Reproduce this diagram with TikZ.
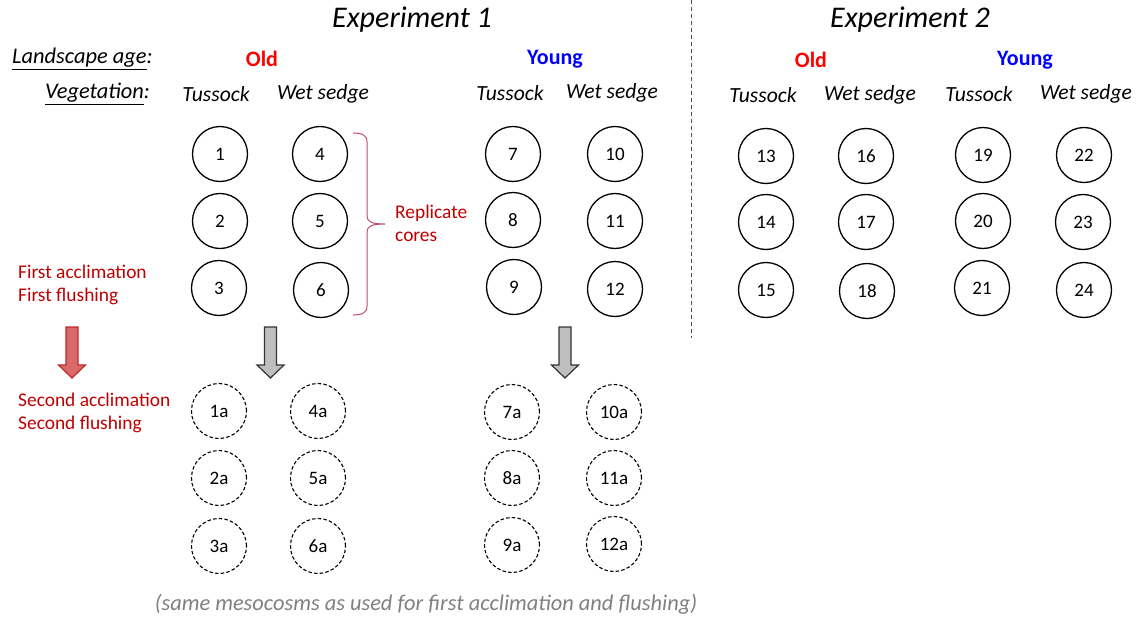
\documentclass[tikz,border=0pt]{standalone}
\usepackage{fontspec}
\setmainfont{Carlito}
\definecolor{darkred}{RGB}{192,0,0}
\definecolor{bracecol}{RGB}{190,75,110}
\definecolor{arrowred}{RGB}{217,106,106}
\definecolor{arrowredline}{RGB}{192,40,40}
\definecolor{arrowgray}{RGB}{191,191,191}
\definecolor{notegray}{RGB}{128,128,128}
\newcommand\myblockarrow[4]{% x, fill, draw, name
  \draw[#3, fill=#2, line width=1.2pt, line join=miter] ({#1-6},327) -- ({#1+6},327) -- ({#1+6},365) -- ({#1+13.5},365) -- (#1,378) -- ({#1-13.5},365) -- ({#1-6},365) -- cycle;}
\begin{document}
\begin{tikzpicture}[x=1pt,y=-1pt,
  core/.style={circle,draw,line width=1.3pt,minimum size=55pt,inner sep=0pt,font=\fontsize{19}{21}\selectfont},
  acore/.style={core,dash pattern=on 3.5pt off 2.2pt,line width=1.1pt},
  title/.style={font=\fontsize{30}{34}\selectfont\itshape},
  veg/.style={font=\fontsize{21.6}{25}\selectfont\itshape},
  lab/.style={font=\fontsize{22.4}{26}\selectfont\itshape},
  age/.style={font=\fontsize{22}{26}\selectfont\bfseries},
  note/.style={text=darkred,font=\fontsize{19.4}{23}\selectfont,anchor=west,inner sep=0pt},
 ]
\fill[white] (0,0) rectangle (1138,618);
\useasboundingbox (0,0) rectangle (1138,618);

% titles
\node[title] (e1) at (412,20) {Experiment 1};
\node[title] (e2) at (910,20) {Experiment 2};
\draw[dash pattern=on 4pt off 3pt, line width=0.8pt, black!70] (691,0) -- (691,338);

% row labels
\node[lab, anchor=west, inner sep=0pt] (la) at (12,59) {\underline{Landscape age}:};
\node[lab, anchor=east, inner sep=0pt] (vg) at (150,94) {\underline{Vegetation}:};

% age labels
\node[age, text=red] (o1) at (262,59) {Old};
\node[age, text=blue] (y1) at (555,59) {Young};
\node[age, text=red] (o2) at (811,60) {Old};
\node[age, text=blue] (y2) at (1025,60) {Young};

% vegetation labels
\node[veg] (t1) at (216,94) {Tussock};
\node[veg] (w1) at (323,94) {Wet sedge};
\node[veg] (t2) at (510,93) {Tussock};
\node[veg] (w2) at (612,93) {Wet sedge};
\node[veg] (t3) at (763,95) {Tussock};
\node[veg] (w3) at (870,95) {Wet sedge};
\node[veg] (t4) at (979,94) {Tussock};
\node[veg] (w4) at (1086,94) {Wet sedge};

% cores
\foreach \n/\x/\y in {1/220/154,2/220/221,3/219/288,4/320/154,5/320/221,6/321/290,
  7/513/154,8/513/220,9/514/287,10/615/154,11/615/221,12/615/289,
  13/766/156,14/766/222,15/766/290,16/866/156,17/866/222,18/867/291,
  19/983/155,20/983/221,21/982/288,22/1084/155,23/1083/222,24/1084/290}
  \node[core] (c\n) at (\x,\y) {\n};
\foreach \n/\x/\y in {1/219/411,2/219/478,3/219/546,4/318/411,5/318/478,6/318/546,
  7/512/412,8/512/478,9/512/545,10/614/412,11/614/478,12/614/544}
  \node[acore] (a\n) at (\x,\y) {\n a};

% brace
\draw[bracecol, line width=1pt] (353,133) .. controls (362,133) and (367,135) .. (367,142)
  -- (367,216) .. controls (367,222) and (372,224) .. (385,224)
  .. controls (372,224) and (367,226) .. (367,232)
  -- (367,306) .. controls (367,313) and (362,315) .. (353,315);
\node[note] (rep) at (395,213) {Replicate};
\node[note] (cor) at (395,237) {cores};

% left notes
\node[note] (fa) at (18,272) {First acclimation};
\node[note] (ff) at (18,296) {First flushing};
\node[note] (sa) at (18,400) {Second acclimation};
\node[note] (sf) at (18,424) {Second flushing};

% block arrows
\myblockarrow{72}{arrowred}{arrowredline}{ra}
\myblockarrow{270.5}{arrowgray}{black!80}{ga1}
\myblockarrow{565}{arrowgray}{black!80}{ga2}

% footnote
\node[font=\fontsize{22.4}{26}\selectfont\itshape, text=notegray] (foot) at (426,604) {(same mesocosms as used for first acclimation and flushing)};
\end{tikzpicture}
\end{document}
